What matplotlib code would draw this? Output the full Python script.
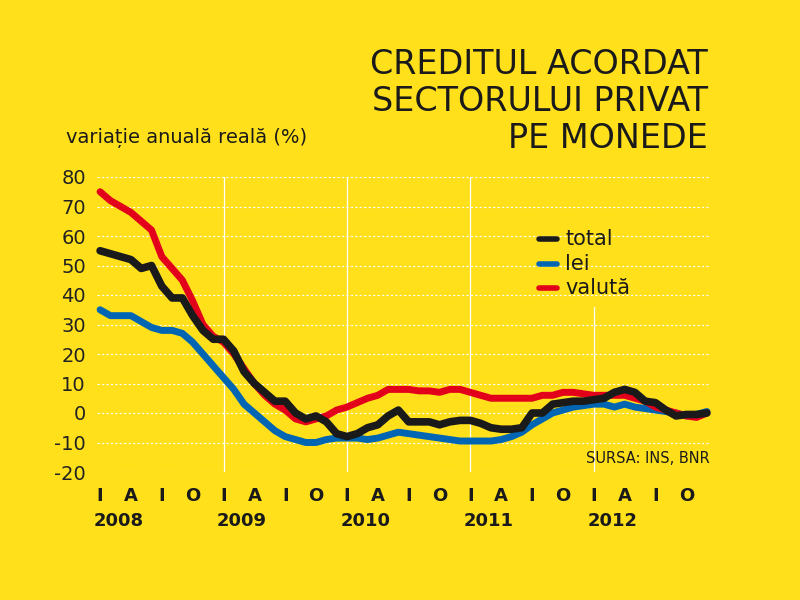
import matplotlib
matplotlib.use("Agg")
import matplotlib.pyplot as plt

total = [55,54,53,52,49,50,43,39,39,33,28,25,25,21,14,10,7,4,4,0,-2,-1,-3,-7,-8,-7,-5,-4,-1,1,
         -3,-3,-3,-4,-3,-2.5,-2.5,-3.5,-5,-5.5,-5.5,-5,0,0,3,3.5,4,4,4.5,5,7,8,7,4,3.5,1,-1,-0.5,-0.5,0]
valuta = [75,72,70,68,65,62,53,49,45,38,30,26,24,20,15,10,6,3,1,-2,-3,-2,-1,1,2,3.5,5,6,8,8,
          8,7.5,7.5,7,8,8,7,6,5,5,5,5,5,6,6,7,7,6.5,6,6,6,6,5,4,2,1,0,-1,-1.5,0]
lei = [35,33,33,33,31,29,28,28,27,24,20,16,12,8,3,0,-3,-6,-8,-9,-10,-10,-9,-8.5,-8.5,-8.5,-9,-8.5,-7.5,-6.5,
       -7,-7.5,-8,-8.5,-9,-9.5,-9.5,-9.5,-9.5,-9,-8,-6.5,-4,-2,0,1,2,2.5,3,3,2,3,2,1.5,1,0.5,0,-1,-0.5,0.5]
years = ["2008", "2009", "2010", "2011", "2012"]
quarters = ["I", "A", "I", "O"]
yticks = [80,70,60,50,40,30,20,10,0,-10,-20]

BG = "#FFE01B"
fig = plt.figure(figsize=(8, 6), dpi=100, facecolor=BG)
ax = fig.add_axes([97/800, 1-472/600, 613/800, 295/600], facecolor=BG)
ax.set_xlim(-0.3, 59.3)
ax.set_ylim(-20, 80)
for s in ax.spines.values():
    s.set_visible(False)
for v in yticks:
    ax.axhline(v, color="white", lw=0.8, ls=(0, (2, 2)), zorder=1)
for k in range(1, 5):
    ax.plot([12*k, 12*k], [-20, 80 if k < 4 else 36], color="white", lw=0.9, zorder=1)
x = list(range(len(total)))
ax.plot(x, valuta, color="#E2001A", lw=5, solid_capstyle="round", zorder=3, clip_on=False)
ax.plot(x, lei, color="#0066B3", lw=5, solid_capstyle="round", zorder=2, clip_on=False)
ax.plot(x, total, color="#1a1a1a", lw=5.5, solid_capstyle="round", zorder=4, clip_on=False)
ax.set_yticks(yticks)
ax.set_yticklabels([str(v) for v in yticks], fontsize=14, color="#222222", family="DejaVu Sans Condensed")
ax.tick_params(axis="y", length=0, pad=8)
ax.set_xticks([])
tr = ax.get_xaxis_transform()
for yi, yr in enumerate(years):
    for qi, q in enumerate(quarters):
        ax.text(yi*12 + qi*3, -0.08, q, transform=tr, ha="center", va="center",
                fontsize=13, fontweight="bold", color="#1a1a1a")
    ax.text(yi*12 + 1.8, -0.165, yr, transform=tr, ha="center", va="center",
            fontsize=13, fontweight="bold", color="#1a1a1a")

# legend
lx, ly = 37.5, [71, 64, 57]
for (lab, c), yy in zip([("total", "#1a1a1a"), ("lei", "#0066B3"), ("valută", "#E2001A")], [239, 264, 288]):
    fy = 1 - yy/600
    fig.add_artist(plt.Line2D([539/800, 557/800], [fy, fy], color=c, lw=4, solid_capstyle="round"))
    fig.text(565/800, fy, lab, fontsize=15, va="center", color="#1a1a1a", family="DejaVu Sans Condensed")

ax.text(1.0, 0.02, "SURSA: INS, BNR", transform=ax.transAxes, ha="right", va="bottom",
        fontsize=10.5, color="#1a1a1a", family="DejaVu Sans Condensed")
fig.text(708/800, 1-48/600, "CREDITUL ACORDAT\nSECTORULUI PRIVAT\nPE MONEDE", ha="right", va="top",
         fontsize=24, color="#1a1a1a", family="DejaVu Sans Condensed", linespacing=1.15)
fig.text(66/800, 1-138/600, "variație anuală reală (%)", ha="left", va="center",
         fontsize=14, color="#1a1a1a", family="DejaVu Sans Condensed")
fig.savefig("out.png", dpi=100, facecolor=BG)
